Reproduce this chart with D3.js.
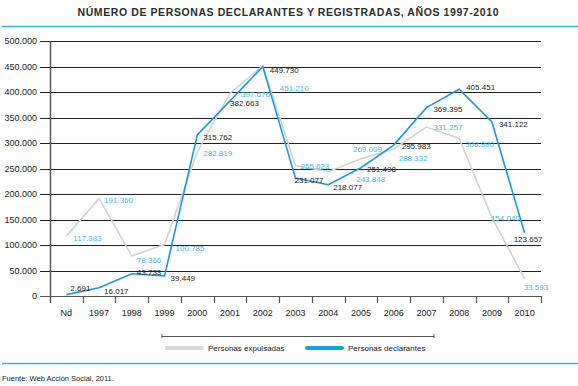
<!DOCTYPE html>
<html>
<head>
<meta charset="utf-8">
<script src="https://cdn.jsdelivr.net/npm/d3@7"></script>
<style>
  body { margin: 0; background: #fff; }
  svg { font-family: "Liberation Sans", Arial, sans-serif; }
</style>
</head>
<body>
<svg id="chart" width="578" height="386"></svg>
<script>
var categories = ["Nd", "1997", "1998", "1999", "2000", "2001", "2002", "2003", "2004", "2005", "2006", "2007", "2008", "2009", "2010"];
var expulsadas = [117383, 191360, 78366, 100785, 282819, 397676, 451210, 255623, 243848, 269009, 288332, 331257, 308880, 154040, 33593];
var declarantes = [2691, 16017, 43733, 39449, 315762, 382663, 449730, 231077, 218077, 251498, 295983, 369395, 405451, 341122, 123657];
var yTicks = [0, 50000, 100000, 150000, 200000, 250000, 300000, 350000, 400000, 450000, 500000];
var seriesNames = ["Personas expulsadas", "Personas declarantes"];

// hand placed label offsets (dx, dy) like in the printed chart
var offExp = [[7,5],[5,5],[5,7],[11,6],[6,4],[11,4],[17,25],[5,3],[28,10],[-8,-7],[5,12],[7,3],[6,9],[-1,4],[-1,11]];
var offDec = [[4,-4],[5,6],[5,1],[6,5],[6,5],[0,5],[7,6],[-1,5],[5,5],[6,4],[8,4],[7,4],[7,1],[7,5],[-11,9]];

(function Chart() {
  var svg = d3.select("#chart");
  var left = 50, right = 541, top = 41, bottom = 296;
  var blue = "#1d9ad6", grey = "#d3d3d3", lightBlue = "#4db8e2";

  var x = d3.scaleBand().domain(categories).range([left, right]);
  var y = d3.scaleLinear().domain([0, 500000]).range([bottom, top]);
  var fmt = function (v) { return d3.format(",")(v).replace(/,/g, "."); };
  var cx = function (d, i) { return x(categories[i]) + x.bandwidth() / 2; };

  // title
  svg.append("text")
    .attr("x", 288).attr("y", 16)
    .attr("text-anchor", "middle")
    .attr("font-size", 10.5).attr("font-weight", "bold")
    .attr("fill", "#2b2b2b")
    .attr("textLength", 421).attr("lengthAdjust", "spacing")
    .text("NÚMERO DE PERSONAS DECLARANTES Y REGISTRADAS, AÑOS 1997-2010");
  svg.append("line")
    .attr("x1", 2).attr("x2", 578).attr("y1", 26.5).attr("y2", 26.5)
    .attr("stroke", "#3cb1da").attr("stroke-width", 1.5);

  // grid + y labels
  var grid = svg.append("g");
  grid.selectAll("line").data(yTicks).enter().append("line")
    .attr("x1", 40).attr("x2", right)
    .attr("y1", function (d) { return Math.round(y(d)) + 0.5; })
    .attr("y2", function (d) { return Math.round(y(d)) + 0.5; })
    .attr("stroke", function (d) { return d === 0 ? "#555" : "#222"; })
    .attr("stroke-width", 1);
  grid.selectAll("text").data(yTicks).enter().append("text")
    .attr("x", 37).attr("y", function (d) { return y(d); })
    .attr("dy", "0.35em")
    .attr("text-anchor", "end")
    .attr("font-size", 9).attr("fill", "#222")
    .text(fmt);

  // axes
  svg.append("line")
    .attr("x1", left + 0.5).attr("x2", left + 0.5).attr("y1", top).attr("y2", 303)
    .attr("stroke", "#555").attr("stroke-width", 1.5);
  var edges = d3.range(categories.length + 1).map(function (i) { return left + i * x.bandwidth(); });
  svg.append("g").selectAll("line").data(edges.slice(1)).enter().append("line")
    .attr("x1", function (d) { return Math.round(d) + 0.5; })
    .attr("x2", function (d) { return Math.round(d) + 0.5; })
    .attr("y1", bottom).attr("y2", 303)
    .attr("stroke", "#555").attr("stroke-width", 1.2);
  svg.append("g").selectAll("text").data(categories).enter().append("text")
    .attr("x", function (d) { return x(d) + x.bandwidth() / 2; })
    .attr("y", 313).attr("dy", "0.35em")
    .attr("text-anchor", "middle")
    .attr("font-size", 9).attr("fill", "#222")
    .text(function (d) { return d; });

  // lines
  var line = d3.line().x(cx).y(function (d) { return y(d); });
  svg.append("path").datum(expulsadas)
    .attr("d", line).attr("fill", "none")
    .attr("stroke", grey).attr("stroke-width", 1.6);
  svg.append("path").datum(declarantes)
    .attr("d", line).attr("fill", "none")
    .attr("stroke", blue).attr("stroke-width", 1.6);

  // value labels
  svg.append("g").selectAll("text").data(expulsadas).enter().append("text")
    .attr("x", function (d, i) { return cx(d, i) + offExp[i][0]; })
    .attr("y", function (d, i) { return y(d) + offExp[i][1]; })
    .attr("font-size", 8).attr("fill", lightBlue)
    .text(fmt);
  svg.append("g").selectAll("text").data(declarantes).enter().append("text")
    .attr("x", function (d, i) { return cx(d, i) + offDec[i][0]; })
    .attr("y", function (d, i) { return y(d) + offDec[i][1]; })
    .attr("font-size", 8).attr("fill", "#222")
    .text(fmt);

  // legend
  var lg = svg.append("g");
  lg.append("path")
    .attr("d", "M162,334V338M162,336.5H434M434,334V338")
    .attr("stroke", "#555").attr("stroke-width", 1).attr("fill", "none");
  var items = lg.selectAll("g").data(seriesNames).enter().append("g")
    .attr("transform", function (d, i) { return "translate(" + (167 + i * 140) + ",348)"; });
  items.append("line")
    .attr("x1", 0).attr("x2", 35).attr("y1", 0).attr("y2", 0)
    .attr("stroke", function (d, i) { return i ? "#0ea5e0" : "#d9d9d9"; })
    .attr("stroke-width", 4).attr("stroke-linecap", "round");
  items.append("text")
    .attr("x", 41).attr("dy", "0.35em")
    .attr("font-size", 8).attr("fill", "#222")
    .text(function (d) { return d; });

  // footer
  svg.append("line")
    .attr("x1", 2).attr("x2", 578).attr("y1", 363.5).attr("y2", 363.5)
    .attr("stroke", "#3cb1da").attr("stroke-width", 1.5);
  svg.append("text")
    .attr("x", 2).attr("y", 378).attr("dy", "0.35em")
    .attr("font-size", 7.5).attr("fill", "#222")
    .text("Fuente: Web Acción Social, 2011.");
})();
</script>
</body>
</html>
